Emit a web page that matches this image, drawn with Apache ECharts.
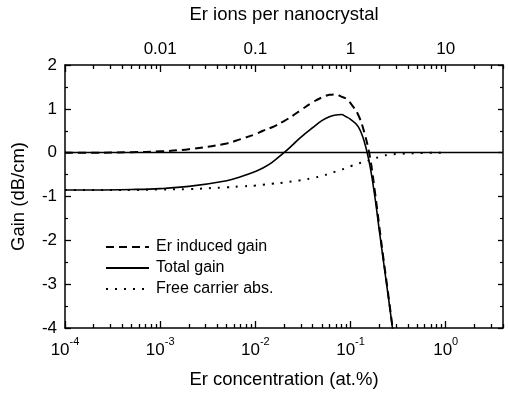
<!DOCTYPE html>
<html>
<head>
<meta charset="utf-8">
<script src="https://cdn.jsdelivr.net/npm/echarts@6/dist/echarts.min.js"></script>
<style>
  html, body { margin: 0; padding: 0; background: #fff; }
  #chart { width: 508px; height: 394px; }
</style>
</head>
<body>
<div id="chart"></div>
<script>
// Er concentration (at.%), bottom axis
const conc = [1e-4, 2e-4, 5e-4, 1e-3, 2e-3, 5e-3, 0.007, 0.01, 0.012, 0.015, 0.02, 0.025, 0.03, 0.04, 0.05, 0.06, 0.07,
  0.08, 0.09, 0.1, 0.12, 0.14, 0.16, 0.18, 0.2, 0.22, 0.25, 0.27, 0.3, 0.5, 1];
const erGain = [0.0, 0.0, 0.01, 0.03, 0.08, 0.21, 0.31, 0.42, 0.5, 0.58, 0.72, 0.85, 0.97, 1.15, 1.26, 1.32, 1.33,
  1.28, 1.23, 1.13, 0.87, 0.45, -0.1, -0.88, -1.66, -2.36, -3.26, -3.82, -4.58, null, null];
const totalGain = [-0.85, -0.85, -0.84, -0.82, -0.77, -0.64, -0.55, -0.43, -0.35, -0.22, 0.0, 0.19, 0.35, 0.57, 0.73, 0.82, 0.86,
  0.87, 0.82, 0.76, 0.6, 0.24, -0.3, -1.0, -1.75, -2.42, -3.3, -3.85, -4.6, null, null];
const freeCarrier = [-0.85, -0.85, -0.85, -0.84, -0.83, -0.79, -0.77, -0.75, -0.73, -0.71, -0.68, -0.65, -0.63, -0.58, -0.53, -0.48, -0.43,
  -0.39, -0.35, -0.31, -0.25, -0.21, -0.17, -0.13, -0.1, -0.07, -0.05, -0.04, -0.03, -0.01, 0];

// tick labels
const bottomMajor = [1e-4, 1e-3, 1e-2, 1e-1, 1];
const topMajor = [0.01, 0.1, 1, 10];

// ticks are drawn on plain value axes in decades (log10 units)
const bottomDecades = [-4, -3, -2, -1, 0];
const topDecades = [-3, -2, -1, 0, 1];
const minorLogs = decades => {
  const out = [];
  decades.forEach(d => { for (let k = 2; k <= 9; k++) out.push(d + Math.log10(k)); });
  return out;
};
const bottomMin = -4, bottomMax = Math.log10(4);
const topMin = -3, topMax = Math.log10(40);

const font = "'Liberation Sans', Arial, sans-serif";
const pairs = arr => conc.map((c, i) => [c, arr[i]]);

const chart = echarts.init(document.getElementById('chart'));

const axisLine = { show: true, onZero: false, lineStyle: { color: '#000', width: 1.5 } };
const noLine = { show: false, onZero: false };

function tickAxis(pos, min, max, values, len) {
  return {
    type: 'value', min: min, max: max, position: pos,
    axisLine: noLine,
    axisTick: { show: true, inside: true, length: len, lineStyle: { color: '#000', width: 1.3 }, customValues: values },
    axisLabel: { show: false },
    splitLine: { show: false }
  };
}

chart.setOption({
  backgroundColor: '#fff',
  animation: false,
  grid: { left: 65, right: 5, top: 65, bottom: 66 },
  legend: {
    orient: 'vertical',
    left: 105,
    top: 239,
    padding: 0,
    itemWidth: 43,
    itemHeight: 14,
    itemGap: 5,
    itemStyle: { opacity: 0, borderWidth: 0 },
    textStyle: { fontFamily: font, fontSize: 16, color: '#000', padding: [0, 0, 0, 2] },
    data: ['Er induced gain', 'Total gain', 'Free carrier abs.']
  },
  xAxis: [
    {
      type: 'log', logBase: 10, min: 1e-4, max: 4, position: 'bottom',
      name: 'Er concentration (at.%)', nameLocation: 'middle', nameGap: 42,
      nameTextStyle: { fontFamily: font, fontSize: 18.5, color: '#000' },
      axisLine: axisLine,
      axisTick: { show: false },
      axisLabel: {
        customValues: bottomMajor, margin: 8,
        formatter: v => '{b|10}{s|' + Math.round(Math.log10(v)) + '}',
        rich: {
          b: { fontFamily: font, fontSize: 17, color: '#000', verticalAlign: 'bottom', padding: [6, 0, 0, 0] },
          s: { fontFamily: font, fontSize: 11, color: '#000', verticalAlign: 'top' }
        }
      },
      splitLine: { show: false }
    },
    {
      type: 'log', logBase: 10, min: 1e-3, max: 40, position: 'top',
      name: 'Er ions per nanocrystal', nameLocation: 'middle', nameGap: 41,
      nameTextStyle: { fontFamily: font, fontSize: 18.5, color: '#000' },
      axisLine: axisLine,
      axisTick: { show: false },
      axisLabel: {
        customValues: topMajor, margin: 7,
        fontFamily: font, fontSize: 17, color: '#000',
        formatter: v => String(v)
      },
      splitLine: { show: false }
    },
    tickAxis('bottom', bottomMin, bottomMax, bottomDecades, 7),
    tickAxis('bottom', bottomMin, bottomMax, minorLogs(bottomDecades), 4),
    tickAxis('top', topMin, topMax, topDecades, 7),
    tickAxis('top', topMin, topMax, minorLogs(topDecades), 4)
  ],
  yAxis: [
    {
      type: 'value', min: -4, max: 2, interval: 1, position: 'left',
      name: 'Gain (dB/cm)', nameLocation: 'middle', nameGap: 37, nameRotate: 90,
      nameTextStyle: { fontFamily: font, fontSize: 18.5, color: '#000' },
      axisLine: axisLine,
      axisTick: { show: true, inside: true, length: 6, lineStyle: { color: '#000', width: 1.3 } },
      minorTick: { show: true, splitNumber: 2, length: 3, lineStyle: { color: '#000', width: 1.2 } },
      axisLabel: { fontFamily: font, fontSize: 17, color: '#000', margin: 8 },
      splitLine: { show: false }
    },
    {
      type: 'value', min: -4, max: 2, interval: 1, position: 'right',
      axisLine: axisLine,
      axisTick: { show: true, inside: true, length: 5, lineStyle: { color: '#000', width: 1.3 } },
      minorTick: { show: true, splitNumber: 2, length: 3, lineStyle: { color: '#000', width: 1.2 } },
      axisLabel: { show: false },
      splitLine: { show: false }
    }
  ],
  series: [
    {
      name: 'Er induced gain', type: 'line', xAxisIndex: 0, yAxisIndex: 0,
      data: pairs(erGain), showSymbol: false, symbol: 'none',
      smooth: 0.4,
      lineStyle: { color: '#000', width: 2, type: [8, 5] },
      itemStyle: { color: '#000' }
    },
    {
      name: 'Total gain', type: 'line', xAxisIndex: 0, yAxisIndex: 0,
      data: pairs(totalGain), showSymbol: false, symbol: 'none',
      smooth: 0.4,
      lineStyle: { color: '#000', width: 1.6, type: 'solid' },
      itemStyle: { color: '#000' },
      markLine: {
        silent: true, symbol: 'none', label: { show: false },
        lineStyle: { color: '#000', width: 1.3, type: 'solid' },
        data: [{ yAxis: 0 }]
      }
    },
    {
      name: 'Free carrier abs.', type: 'line', xAxisIndex: 0, yAxisIndex: 0,
      data: pairs(freeCarrier), showSymbol: false, symbol: 'none',
      smooth: 0.4,
      lineStyle: { color: '#000', width: 2, type: [2, 7] },
      itemStyle: { color: '#000' }
    }
  ]
});
</script>
</body>
</html>
